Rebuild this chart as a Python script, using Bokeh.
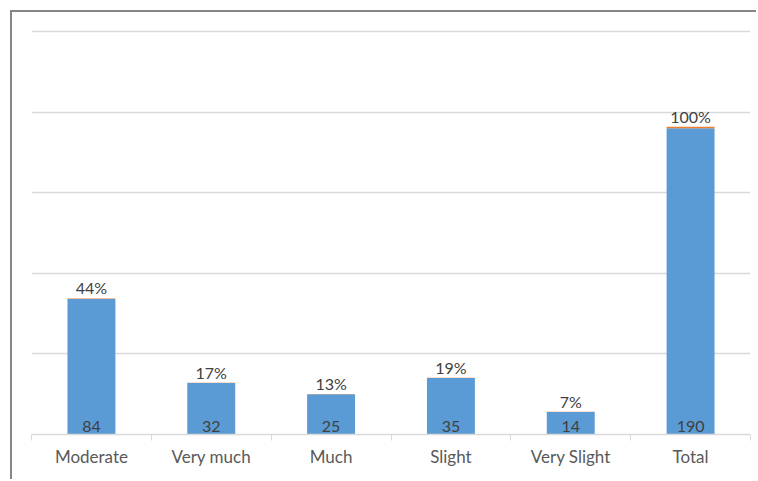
import numpy as np
from bokeh.plotting import figure
from bokeh.models import FixedTicker, ColumnDataSource, Range1d
from bokeh.core.properties import value
from bokeh.embed import file_html
from bokeh.resources import INLINE

categories = ["Moderate", "Very much", "Much", "Slight", "Very Slight", "Total"]
counts = [84, 32, 25, 35, 14, 190]
percents = [44, 17, 13, 19, 7, 100]

FONT = "Lato"
BLUE = "#5B9BD5"
ORANGE = "#ED7D31"

xs = np.arange(len(categories)) + 0.5
frac = np.array(percents) / 100.0
src = ColumnDataSource(dict(
    x=xs,
    cnt=counts,
    top2=np.array(counts) + frac,
    cnt_lbl=[str(c) for c in counts],
    pct_lbl=[f"{p}%" for p in percents],
))

p = figure(width=746, height=469, output_backend="svg", toolbar_location=None,
           x_range=Range1d(0, len(categories)), y_range=Range1d(0, 255),
           min_border_left=19, min_border_right=8, min_border_top=11, min_border_bottom=47)
p.styles = {"border-top": "2px solid #868686", "border-left": "2px solid #868686",
            "margin-top": "10px", "margin-left": "10px"}
p.outline_line_color = None
p.background_fill_color = "white"
p.border_fill_color = "white"

p.vbar(x="x", top="cnt", bottom=0, width=0.4, source=src, fill_color=BLUE, line_color=None)
p.vbar(x="x", top="top2", bottom="cnt", width=0.4, source=src, fill_color=ORANGE, line_color=None)

p.text(x="x", y=0, text="cnt_lbl", source=src, text_align="center", text_baseline="bottom",
       y_offset=-3, text_font=value(FONT), text_font_size="16px", text_color="#404040")
p.text(x="x", y="top2", text="pct_lbl", source=src, text_align="center", text_baseline="bottom",
       y_offset=-1, text_font=value(FONT), text_font_size="16px", text_color="#404040")

p.yaxis.visible = False
p.ygrid.ticker = FixedTicker(ticks=[50, 100, 150, 200, 250])
p.ygrid.grid_line_color = "#d9d9d9"
p.ygrid.grid_line_width = 1.5
p.xgrid.visible = False

ax = p.xaxis[0]
ax.ticker = FixedTicker(ticks=list(xs), minor_ticks=list(range(len(categories) + 1)))
ax.major_label_overrides = {float(x): c for x, c in zip(xs, categories)}
ax.major_tick_out = 0
ax.major_tick_in = 0
ax.minor_tick_out = 6
ax.minor_tick_in = 0
ax.minor_tick_line_color = "#d9d9d9"
ax.axis_line_color = "#d9d9d9"
ax.axis_line_width = 1.5
ax.major_label_text_font = FONT
ax.major_label_text_font_size = "17px"
ax.major_label_text_color = "#595959"
ax.major_label_standoff = 5

open("out.html", "w").write(file_html(p, INLINE))
